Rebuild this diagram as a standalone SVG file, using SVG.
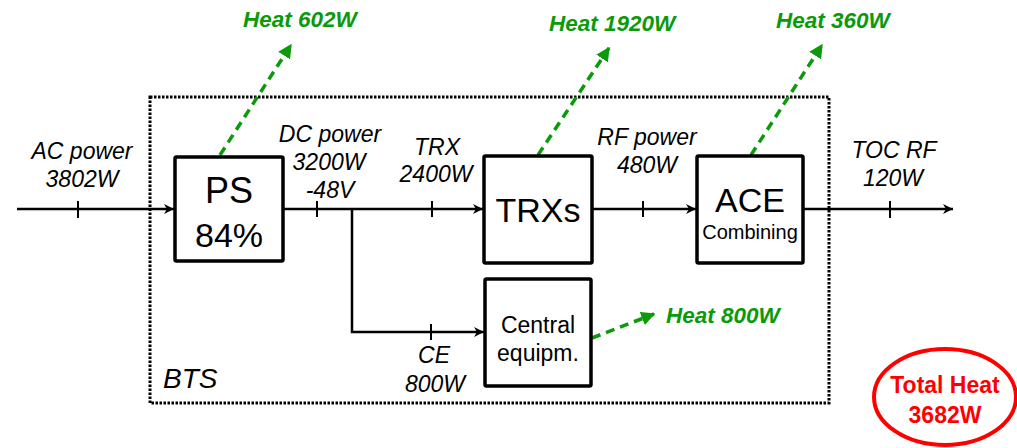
<svg xmlns="http://www.w3.org/2000/svg" width="1017" height="448" viewBox="0 0 1017 448">
<style>
.lbl{font-family:"Liberation Sans",Arial,sans-serif;font-style:italic;font-size:23px;fill:#000;text-anchor:middle}
.heat{font-family:"Liberation Sans",Arial,sans-serif;font-style:italic;font-weight:bold;font-size:22.5px;fill:#0a9a0a}
.box{fill:#fff;stroke:#000;stroke-width:3.5}
.big{font-family:"Liberation Sans",Arial,sans-serif;font-size:34px;fill:#000;text-anchor:middle}
.mid{font-family:"Liberation Sans",Arial,sans-serif;font-size:22px;fill:#000;text-anchor:middle}
.ln{fill:none;stroke:#000;stroke-width:2.5}
.tk{stroke:#000;stroke-width:2}
.hl{fill:none;stroke:#0a9a0a;stroke-width:3.5;stroke-dasharray:9 6}
.tot{font-family:"Liberation Sans",Arial,sans-serif;font-weight:bold;font-size:23px;fill:#ff0000;text-anchor:middle}
</style>
<defs>
<marker id="ah" viewBox="0 0 10 10" refX="10" refY="5" markerWidth="4" markerHeight="4" orient="auto" markerUnits="strokeWidth">
<path d="M0,0 L10,5 L0,10 L3,5 z" fill="#000"/>
</marker>
<marker id="gh" viewBox="0 0 10 10" refX="9" refY="5" markerWidth="4" markerHeight="4" orient="auto" markerUnits="strokeWidth">
<path d="M0,0 L10,5 L0,10 z" fill="#0a9a0a"/>
</marker>
</defs>
<rect width="1017" height="448" fill="#fff"/>
<g id="bts">
<rect x="150" y="97" width="679" height="306" fill="none" stroke="#000" stroke-width="3" stroke-dasharray="2.5 1.5"/>
<text x="163" y="388" style="font-family:'Liberation Sans',Arial,sans-serif;font-style:italic;font-size:28px">BTS</text>
</g>
<g id="connectors">
<line class="ln" x1="17" y1="209" x2="174" y2="209" marker-end="url(#ah)"/>
<line class="ln" x1="283" y1="209" x2="483" y2="209" marker-end="url(#ah)"/>
<polyline class="ln" points="352,209 352,332 484,332" marker-end="url(#ah)"/>
<line class="ln" x1="592" y1="209" x2="696" y2="209" marker-end="url(#ah)"/>
<line class="ln" x1="803" y1="209" x2="953" y2="209" marker-end="url(#ah)"/>
<line class="tk" x1="78" y1="201" x2="78" y2="218"/>
<line class="tk" x1="317" y1="201" x2="317" y2="217"/>
<line class="tk" x1="432" y1="201" x2="432" y2="217"/>
<line class="tk" x1="643" y1="201" x2="643" y2="217"/>
<line class="tk" x1="890" y1="201" x2="890" y2="218"/>
<line class="tk" x1="431" y1="324" x2="431" y2="340"/>
<line class="hl" x1="220" y1="155" x2="291" y2="45" marker-end="url(#gh)"/>
<line class="hl" x1="538" y1="155" x2="609" y2="48" marker-end="url(#gh)"/>
<line class="hl" x1="751" y1="155" x2="822" y2="45" marker-end="url(#gh)"/>
<line class="hl" x1="592" y1="338" x2="654" y2="314" marker-end="url(#gh)"/>
</g>
<g id="labels">
<text class="lbl" x="82" y="159">AC power</text>
<text class="lbl" x="82" y="187">3802W</text>
<text class="lbl" x="330" y="142">DC power</text>
<text class="lbl" x="329" y="170">3200W</text>
<text class="lbl" x="330" y="198">-48V</text>
<text class="lbl" x="437" y="155">TRX</text>
<text class="lbl" x="436" y="182">2400W</text>
<text class="lbl" x="647" y="145">RF power</text>
<text class="lbl" x="647" y="173">480W</text>
<text class="lbl" x="894" y="158">TOC RF</text>
<text class="lbl" x="893" y="186">120W</text>
<text class="lbl" x="434" y="363">CE</text>
<text class="lbl" x="435" y="392">800W</text>
<text class="heat" x="243" y="27">Heat 602W</text>
<text class="heat" x="549" y="31">Heat 1920W</text>
<text class="heat" x="776" y="28">Heat 360W</text>
<text class="heat" x="666" y="323">Heat 800W</text>
</g>
<g id="ps">
<rect class="box" x="175" y="157" width="108" height="104" rx="1.5"/>
<text class="big" x="229" y="203" style="font-size:36px">PS</text>
<text class="big" x="229" y="247">84%</text>
</g>
<g id="trxs">
<rect class="box" x="484" y="156" width="108" height="107" rx="1.5"/>
<text class="big" x="538" y="222">TRXs</text>
</g>
<g id="ace">
<rect class="box" x="697" y="156" width="106" height="107" rx="1.5"/>
<text class="big" x="750" y="212">ACE</text>
<text class="mid" x="750" y="239" style="font-size:20px">Combining</text>
</g>
<g id="central">
<rect class="box" x="485" y="279" width="106" height="107" rx="1.5"/>
<text class="mid" x="538" y="333" style="font-size:23px">Central</text>
<text class="mid" x="538" y="361" style="font-size:23px">equipm.</text>
</g>
<g id="total">
<ellipse cx="945" cy="397" rx="71" ry="48" fill="#fff" stroke="#ff0000" stroke-width="4"/>
<text class="tot" x="945" y="393">Total Heat</text>
<text class="tot" x="945" y="423">3682W</text>
</g>
</svg>
